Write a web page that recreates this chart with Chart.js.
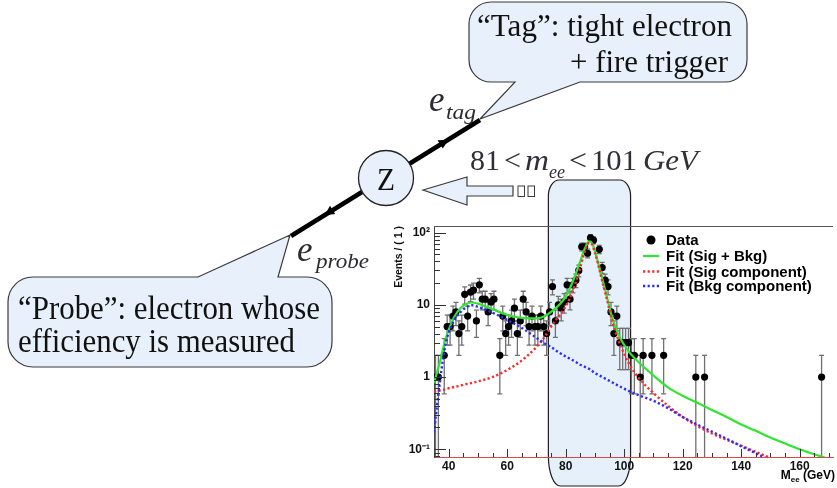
<!DOCTYPE html>
<html><head><meta charset="utf-8">
<script src="https://cdn.jsdelivr.net/npm/chart.js@4"></script>
<style>
html,body{margin:0;padding:0;background:#fff;}
#wrap{position:relative;width:837px;height:488px;overflow:hidden;background:#fff;}
#c{position:absolute;left:0;top:0;}
#diag{position:absolute;left:0;top:0;}
#diag text{font-family:"Liberation Serif","DejaVu Serif",serif;}
</style></head><body>
<div id="wrap">
<canvas id="c" width="837" height="488"></canvas>
<svg id="diag" width="837" height="488" xmlns="http://www.w3.org/2000/svg">
  <g fill="#e8f1fb" stroke="#3a3a3a" stroke-width="1.2">
    <path d="M 491 2 H 725 A 22 22 0 0 1 747 24 V 60 A 22 22 0 0 1 725 82 H 580 L 480 119 L 515 82 H 491 A 22 22 0 0 1 469 60 V 24 A 22 22 0 0 1 491 2 Z"/>
    <path d="M 33 277 H 198 L 290 235 L 278 277 H 307 A 25 25 0 0 1 332 302 V 342 A 25 25 0 0 1 307 367 H 33 A 25 25 0 0 1 8 342 V 302 A 25 25 0 0 1 33 277 Z"/>
    <polygon points="423,190 467,177 467,186 513,186 513,196 467,196 467,205"/>
  </g>
  <g fill="none" stroke="#3a3a3a" stroke-width="1">
    <rect x="518" y="186" width="6.5" height="10.5"/>
    <rect x="528" y="186" width="6.5" height="10.5"/>
  </g>
  <line x1="409" y1="164" x2="480" y2="120" stroke="#000" stroke-width="4.5"/>
  <line x1="362" y1="192" x2="291" y2="236" stroke="#000" stroke-width="4.5"/>
  <polygon points="448.5,139.7 442.8,148.6 437.6,140.2" fill="#000"/>
  <polygon points="324.6,215.3 335.2,214.1 330.0,205.7" fill="#000"/>
  <circle cx="386" cy="178" r="27.5" fill="#e8f1fb" stroke="#222" stroke-width="1.3"/>
  <text x="377" y="190" font-size="31" fill="#111" textLength="18" lengthAdjust="spacingAndGlyphs">Z</text>
  <g fill="#111">
    <text x="477" y="36" font-size="32" textLength="255" lengthAdjust="spacingAndGlyphs">“Tag”: tight electron</text>
    <text x="570" y="72" font-size="32" textLength="158" lengthAdjust="spacingAndGlyphs">+ fire trigger</text>
    <text x="18" y="319" font-size="33" textLength="302" lengthAdjust="spacingAndGlyphs">“Probe”: electron whose</text>
    <text x="18" y="352" font-size="33" textLength="277" lengthAdjust="spacingAndGlyphs">efficiency is measured</text>
  </g>
  <g fill="#2a2a30" font-style="italic">
    <text x="429" y="111" font-size="35">e</text>
    <text x="446" y="119" font-size="21" textLength="30" lengthAdjust="spacingAndGlyphs">tag</text>
    <text x="297" y="261" font-size="35">e</text>
    <text x="316" y="268" font-size="21" textLength="53" lengthAdjust="spacingAndGlyphs">probe</text>
  </g>
  <g fill="#2f2f38">
    <text x="470" y="170" font-size="29" textLength="30" lengthAdjust="spacingAndGlyphs">81</text>
    <text x="504" y="170" font-size="29" textLength="17" lengthAdjust="spacingAndGlyphs">&lt;</text>
    <text x="525" y="170" font-size="29" font-style="italic" textLength="24" lengthAdjust="spacingAndGlyphs">m</text>
    <text x="549" y="178" font-size="18" font-style="italic" textLength="16" lengthAdjust="spacingAndGlyphs">ee</text>
    <text x="569" y="170" font-size="29" textLength="18" lengthAdjust="spacingAndGlyphs">&lt;</text>
    <text x="591" y="170" font-size="29" textLength="46" lengthAdjust="spacingAndGlyphs">101</text>
    <text x="643" y="170" font-size="29" font-style="italic" textLength="55" lengthAdjust="spacingAndGlyphs">GeV</text>
  </g>
</svg>
</div>
<script>
// ---- data ----
const massBins = [35.5,36.5,38.5,39.5,40.5,41.5,42.5,43.5,44.5,45.5,46.5,47.5,48.5,49.5,50.5,51.5,52.5,53.5,54.5,55.5,57.5,58.5,59.5,60.5,61.5,62.5,63.5,64.5,65.5,66.5,67.5,68.5,69.5,70.5,71.5,72.5,73.5,74.5,75.5,76.5,77.5,78.5,79.5,80.5,81.5,82.5,83.5,84.5,85.5,86.5,87.5,88.5,89.5,91.5,92.5,93.5,94.5,95.5,96.5,97.5,98.5,99.5,100.5,101.5,102.5,103.5,105.5,106.5,109.5,113.5,124.5,127.5,167.5];
const eventCounts = [1,1,2,5,5,7,8,4,5,14,7,15,16,6,19,12,12,8,11,12,2,7,4,5,6,9,4,6,12,8,5,7,5,5,7,5,4,8,18,6,10,9,11,19,12,19,22,30,64,64,52,85,79,59,33,22,18,8,4,7,3,3,3,3,2,2,1,2,2,2,1,1,1];
const fitMass = [35,36,37,38,39,40,42,44,46,48,50,55,60,65,70,73,75,78,80,82,84,85,86,87,88,89,90,91,92,94,96,98,100,102,105,110,115,120,125,130,135,140,145,150,155,160,165,170,175];
const fitTotal = [0.83,1.15,1.6,2.4,3.4,4.5,6.9,9.0,10.3,10.8,10.4,8.7,7.3,6.6,6.5,7.0,8.0,10.2,13,19,31,40,53,66,76,72,56,40,28,13.5,6.5,3.9,2.8,2.15,1.6,1.05,0.72,0.55,0.44,0.35,0.28,0.22,0.18,0.145,0.12,0.1,0.085,0.073,0.063];
const fitSig = [0.63,0.64,0.65,0.66,0.68,0.7,0.73,0.76,0.8,0.83,0.87,1.0,1.25,1.7,2.6,3.7,5.0,7.3,9.5,14,24,33,47,62,72,69,53,38,26,12.5,5.8,3.3,2.1,1.45,0.97,0.6,0.4,0.28,0.21,0.165,0.135,0.112,0.092,0.076,0.063,0.052,0.043,0.036,0.03];
const fitBkg = [0.17,0.39,0.83,1.7,2.9,4.1,6.2,7.9,9.3,9.9,9.4,7.8,6.2,4.8,3.5,2.9,2.6,2.15,1.93,1.75,1.57,1.48,1.42,1.36,1.3,1.22,1.13,1.08,1.03,0.93,0.84,0.76,0.69,0.63,0.56,0.47,0.37,0.28,0.22,0.175,0.14,0.11,0.088,0.07,0.056,0.045,0.036,0.029,0.023];
const seriesLabels = ['Data','Fit (Sig + Bkg)','Fit (Sig component)','Fit (Bkg component)'];
const xLabelValues = [40,60,80,100,120,140,160];
const yTickValues = [0.1,1,10,100];
const yTickLabels = ['10\u207B\u00B9','1','10','10\u00B2'];
const windowRange = [74.1,102.2];

const SANS = '"Liberation Sans", Arial, Helvetica, sans-serif';

function pts(xs, ys){ return xs.map((x,i)=>({x:x,y:ys[i]})); }

function boxPath(ctx,x1,top,x2,bot,rxT,ryT,rxB,ryB){
  ctx.beginPath();
  ctx.moveTo(x1+rxT, top);
  ctx.lineTo(x2-rxT, top);
  ctx.ellipse(x2-rxT, top+ryT, rxT, ryT, 0, -Math.PI/2, 0);
  ctx.lineTo(x2, bot-ryB);
  ctx.ellipse(x2-rxB, bot-ryB, rxB, ryB, 0, 0, Math.PI/2);
  ctx.lineTo(x1+rxB, bot);
  ctx.ellipse(x1+rxB, bot-ryB, rxB, ryB, 0, Math.PI/2, Math.PI);
  ctx.lineTo(x1, top+ryT);
  ctx.ellipse(x1+rxT, top+ryT, rxT, ryT, 0, Math.PI, 1.5*Math.PI);
  ctx.closePath();
}

const deco = {
  id:'rootDeco',
  beforeDraw(chart){
    const ctx = chart.ctx, xs = chart.scales.x;
    const x1 = xs.getPixelForValue(windowRange[0]), x2 = xs.getPixelForValue(windowRange[1]);
    ctx.save();
    boxPath(ctx, x1, 180, x2, 486, 11, 16, 12, 30);
    ctx.fillStyle = '#e6f0fa'; ctx.fill();
    ctx.lineWidth = 1.2; ctx.strokeStyle = '#1e1e1e'; ctx.stroke();
    ctx.restore();
  },
  beforeDatasetsDraw(chart){
    const ctx = chart.ctx, xs = chart.scales.x, ys = chart.scales.y, a = chart.chartArea;
    ctx.save();
    ctx.beginPath(); ctx.rect(a.left, a.top, a.right-a.left, a.bottom-a.top); ctx.clip();
    ctx.strokeStyle = '#707070'; ctx.lineWidth = 1.3;
    massBins.forEach((m,i)=>{
      const n = eventCounts[i], e = Math.sqrt(n);
      const px = xs.getPixelForValue(m);
      const hi = ys.getPixelForValue(n+e);
      const lo = (n-e) > 0 ? ys.getPixelForValue(n-e) : a.bottom + 2;
      ctx.beginPath(); ctx.moveTo(px, hi); ctx.lineTo(px, lo); ctx.stroke();
      ctx.beginPath(); ctx.moveTo(px-2.5, hi); ctx.lineTo(px+2.5, hi);
      if ((n-e) > 0) { ctx.moveTo(px-2.5, lo); ctx.lineTo(px+2.5, lo); }
      ctx.stroke();
    });
    ctx.restore();
  },
  afterDraw(chart){
    const ctx = chart.ctx, xs = chart.scales.x, ys = chart.scales.y, a = chart.chartArea;
    ctx.save();
    ctx.strokeStyle = '#555'; ctx.lineWidth = 1;
    ctx.beginPath(); ctx.moveTo(a.left, a.top+0.5); ctx.lineTo(a.right, a.top+0.5); ctx.stroke();
    ctx.strokeStyle = '#333';
    for (let d=-2; d<=2; d++){
      for (let k=1; k<=9; k++){
        const v = k*Math.pow(10,d);
        if (v < ys.min || v > ys.max) continue;
        const p = Math.round(ys.getPixelForValue(v))+0.5;
        const len = k===1 ? 12 : 6;
        ctx.beginPath(); ctx.moveTo(a.left, p); ctx.lineTo(a.left+len, p); ctx.stroke();
      }
    }
    for (let v=35; v<=xs.max; v+=5){
      const p = Math.round(xs.getPixelForValue(v))+0.5;
      const len = (v%20===0) ? 8 : 4;
      ctx.beginPath(); ctx.moveTo(p, a.bottom); ctx.lineTo(p, a.bottom-len); ctx.stroke();
    }
    const ds = chart.data.datasets;
    const ly = [240,256,271.5,286];
    ctx.font = 'bold 15px ' + SANS; ctx.textBaseline = 'middle'; ctx.fillStyle = '#000';
    ds.forEach((d,i)=>{
      if (i===0){
        ctx.beginPath(); ctx.arc(651, ly[i], 4.5, 0, 2*Math.PI); ctx.fillStyle='#000'; ctx.fill();
      } else {
        ctx.strokeStyle = d.borderColor; ctx.lineWidth = d.borderWidth;
        ctx.setLineDash(d.borderDash || []);
        ctx.beginPath(); ctx.moveTo(643, ly[i]); ctx.lineTo(659, ly[i]); ctx.stroke();
        ctx.setLineDash([]);
      }
      ctx.fillStyle = '#000';
      ctx.fillText(d.label, 666, ly[i]+1);
    });
    ctx.textBaseline = 'alphabetic';
    ctx.font = 'bold 12px ' + SANS;
    const t3 = ' (GeV)', w3 = ctx.measureText(t3).width;
    const w1 = ctx.measureText('M').width;
    ctx.font = 'bold 8px ' + SANS;
    const w2 = ctx.measureText('ee').width;
    const right = 835, base = 479;
    let x0 = right - w3 - w2 - w1;
    ctx.font = 'bold 12px ' + SANS; ctx.fillText('M', x0, base);
    ctx.font = 'bold 8px ' + SANS; ctx.fillText('ee', x0+w1, base+3);
    ctx.font = 'bold 12px ' + SANS; ctx.fillText(t3, x0+w1+w2, base);
    ctx.restore();
  }
};

new Chart(document.getElementById('c'), {
  type: 'scatter',
  data: { datasets: [
    { label: seriesLabels[0], data: pts(massBins, eventCounts), showLine:false,
      pointRadius:3.6, pointBackgroundColor:'#000', pointBorderColor:'#000', pointBorderWidth:0, order:4 },
    { label: seriesLabels[1], data: pts(fitMass, fitTotal), showLine:true, pointRadius:0,
      borderColor:'#2ee62e', borderWidth:2.2, cubicInterpolationMode:'monotone', fill:false, order:3 },
    { label: seriesLabels[2], data: pts(fitMass, fitSig), showLine:true, pointRadius:0,
      borderColor:'#ff2a2a', borderWidth:2.4, borderDash:[2.2,2.4], cubicInterpolationMode:'monotone', fill:false, order:2 },
    { label: seriesLabels[3], data: pts(fitMass, fitBkg), showLine:true, pointRadius:0,
      borderColor:'#2a2aff', borderWidth:2.4, borderDash:[2.2,2.4], cubicInterpolationMode:'monotone', fill:false, order:1 }
  ]},
  options: {
    responsive:false, animation:false, devicePixelRatio:1,
    layout:{ padding:{ left:390, top:226, right:0, bottom:0 } },
    plugins:{ legend:{display:false}, tooltip:{enabled:false} },
    scales:{
      x:{ type:'linear', min:35, max:171.4,
          afterFit(s){ s.height = 31; },
          grid:{ display:false, drawTicks:false },
          border:{ display:true, color:'#d64a4a', width:1 },
          ticks:{ stepSize:5, autoSkip:false, maxRotation:0, padding:2, color:'#111',
                  font:{ family:SANS, weight:'bold', size:12 },
                  callback:(v)=> xLabelValues.includes(v) ? String(v) : '' } },
      y:{ type:'logarithmic', min:0.078, max:124,
          afterBuildTicks(s){ s.ticks = yTickValues.map(v=>({value:v})); },
          afterFit(s){ s.width = 44; },
          grid:{ display:false, drawTicks:false },
          border:{ display:true, color:'#444', width:1 },
          ticks:{ padding:4, color:'#111', font:{ family:SANS, weight:'bold', size:12 },
                  callback:(v)=>{ const i = yTickValues.indexOf(v); return i>=0 ? yTickLabels[i] : ''; } },
          title:{ display:true, text:'Events / ( 1 )', align:'end', color:'#111',
                  font:{ family:SANS, weight:'bold', size:10.5 }, padding:{top:3,bottom:0} } }
    }
  },
  plugins:[deco]
});
</script>
</body></html>
